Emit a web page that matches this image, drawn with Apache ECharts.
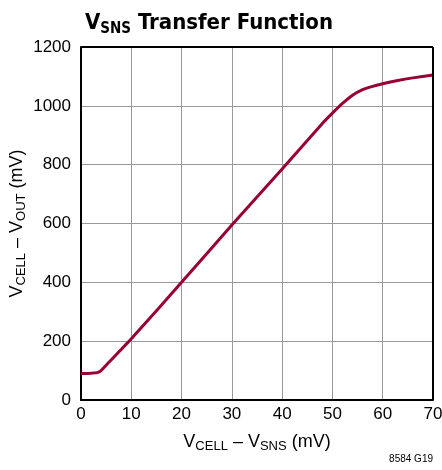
<!DOCTYPE html>
<html>
<head>
<meta charset="utf-8">
<script src="https://cdn.jsdelivr.net/npm/echarts@6/dist/echarts.min.js"></script>
<style>
  html, body { margin: 0; padding: 0; background: #fff; }
  #chart { width: 442px; height: 470px; }
</style>
</head>
<body>
<div id="chart"></div>
<script>
// V_CELL - V_SNS (mV)
const vSns = [0, 2, 3.2, 4, 5, 10, 20, 30, 40, 48, 50, 52, 54, 56, 58, 60, 63, 66, 70]
// V_CELL - V_OUT (mV)
const vOut = [90, 91, 93, 100, 118, 208, 400, 595, 785, 940, 975, 1008, 1036, 1055, 1066, 1075, 1086, 1095, 1105]

const font = '"DejaVu Sans Condensed", "Liberation Sans Narrow", "Liberation Sans", sans-serif'
const labelFont = '"Liberation Sans", Arial, sans-serif'

const chart = echarts.init(document.getElementById('chart'))
chart.setOption({
  animation: false,
  title: {
    text: '{v|V}{s|SNS}{v| Transfer Function}',
    left: 80,
    top: 5,
    textStyle: {
      rich: {
        v: { fontFamily: font, fontWeight: 'bold', fontSize: 22, color: '#000' },
        s: { fontFamily: font, fontWeight: 'bold', fontSize: 15, color: '#000', verticalAlign: 'bottom', padding: [12, 0, 0, 0] }
      }
    }
  },
  graphic: [{
    type: 'text',
    right: 9,
    top: 454,
    style: { text: '8584 G19', font: '10px ' + labelFont, fill: '#000' }
  }],
  grid: { left: 81, right: 9, top: 47, bottom: 70, containLabel: false, outerBoundsMode: 'none' },
  xAxis: {
    type: 'value',
    min: 0, max: 70, interval: 10,
    name: '{v|V}{s|CELL}{v| – V}{s|SNS}{v| (mV)}',
    nameLocation: 'middle',
    nameGap: 31,
    nameMoveOverlap: false,
    nameTextStyle: {
      rich: {
        v: { fontFamily: labelFont, fontSize: 18, color: '#000' },
        s: { fontFamily: labelFont, fontSize: 13, color: '#000', padding: [9, 0, 0, 0] }
      }
    },
    axisLine: { show: true, lineStyle: { color: '#000', width: 2 } },
    axisTick: { show: false },
    axisLabel: { fontFamily: labelFont, fontSize: 17, color: '#000', margin: 6 },
    splitLine: { show: true, lineStyle: { color: '#999', width: 1 } }
  },
  yAxis: {
    type: 'value',
    min: 0, max: 1200, interval: 200,
    name: '{v|V}{s|CELL}{v| – V}{s|OUT}{v| (mV)}',
    nameLocation: 'middle',
    nameGap: 53,
    nameMoveOverlap: false,
    nameTextStyle: {
      rich: {
        v: { fontFamily: labelFont, fontSize: 18, color: '#000' },
        s: { fontFamily: labelFont, fontSize: 13, color: '#000', padding: [9, 0, 0, 0] }
      }
    },
    axisLine: { show: true, lineStyle: { color: '#000', width: 2 } },
    axisTick: { show: false },
    axisLabel: { fontFamily: labelFont, fontSize: 17, color: '#000', margin: 10, formatter: v => String(v) },
    splitLine: { show: true, lineStyle: { color: '#999', width: 1 } }
  },
  series: [{
    type: 'line',
    data: vSns.map((x, i) => [x, vOut[i]]),
    smooth: 0.2,
    symbol: 'none',
    lineStyle: { color: '#990033', width: 3 }
  }, {
    // frame on top/right
    type: 'line',
    data: [],
    markLine: {
      silent: true,
      symbol: 'none',
      label: { show: false },
      lineStyle: { color: '#000', width: 2, type: 'solid' },
      data: [{ xAxis: 70 }, { yAxis: 1200 }]
    }
  }]
})
</script>
</body>
</html>
